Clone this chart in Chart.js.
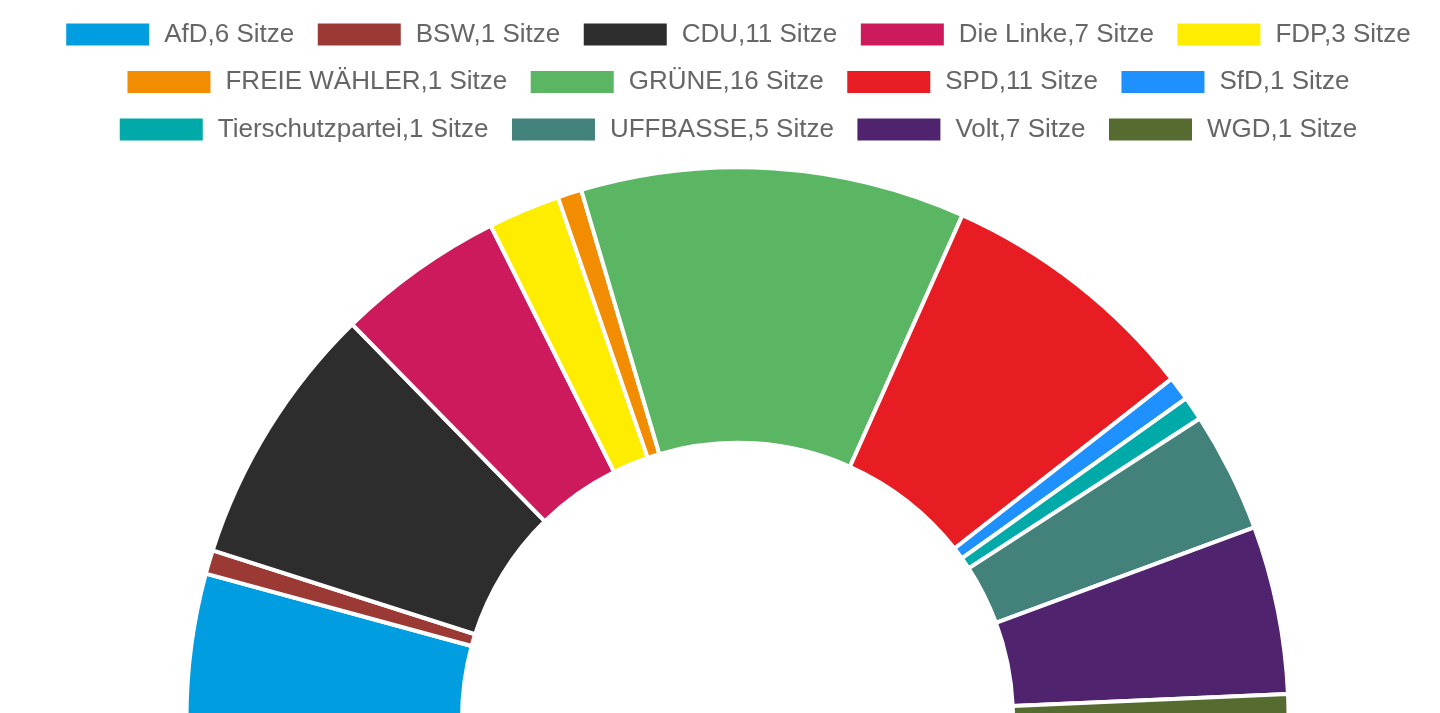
<!DOCTYPE html>
<html><head><meta charset="utf-8">
<style>html,body{margin:0;padding:0;background:#fff;overflow:hidden;width:1440px;height:713px}#w{width:1475px;height:733px}</style>
<script src="https://cdn.jsdelivr.net/npm/chart.js@4"></script></head>
<body><div id="w"><canvas id="c"></canvas></div>
<script>
const parties=["AfD","BSW","CDU","Die Linke","FDP","FREIE WÄHLER","GRÜNE","SPD","SfD","Tierschutzpartei","UFFBASSE","Volt","WGD"];
const seats=[6,1,11,7,3,1,16,11,1,1,5,7,1];
const colors=["#009ee0","#9b3a35","#2d2d2d","#cc1a5c","#ffed00","#f28c00","#5ab663","#e81c23","#1e90ff","#00aaa8","#43827a","#50236f","#556b2f"];
const labels=parties.map((p,i)=>p+","+seats[i]+" Sitze");
new Chart(document.getElementById("c"),{type:"doughnut",
data:{labels,datasets:[{data:seats,backgroundColor:colors,borderColor:"#fff",borderWidth:4}]},
options:{responsive:true,maintainAspectRatio:false,animation:false,rotation:-90,circumference:180,cutout:"50%",radius:551,
layout:{padding:{top:0,bottom:0,left:0,right:0}},
plugins:{tooltip:{enabled:false},legend:{position:"top",labels:{boxWidth:87,boxHeight:26,padding:21.5,color:"#666",font:{family:"'Liberation Sans',Arial,sans-serif",size:26}}}}}});
</script></body></html>
